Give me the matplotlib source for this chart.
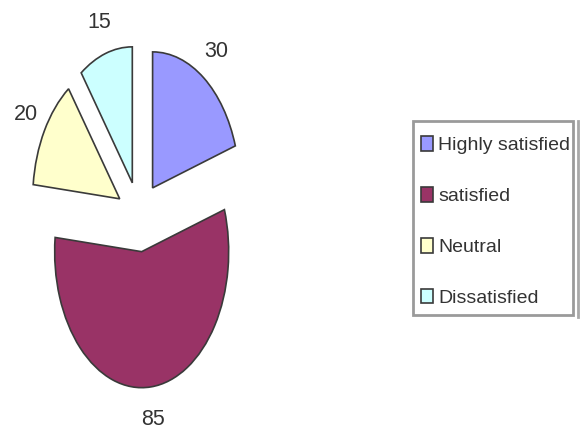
import matplotlib
matplotlib.use("Agg")
import matplotlib.pyplot as plt
from matplotlib.lines import Line2D
from matplotlib.patches import Rectangle

categories = ["Highly satisfied", "satisfied", "Neutral", "Dissatisfied"]
values = [30, 85, 20, 15]
colors = ["#9999FF", "#993366", "#FFFFCC", "#CCFFFF"]
explode = [0.26, 0.26, 0.26, 0.26]

plt.rcParams['font.family'] = ['Liberation Sans', 'DejaVu Sans']

W, H = 588, 433
fig = plt.figure(figsize=(W / 100, H / 100), dpi=100)
fig.patch.set_facecolor("white")

# pie axes (left part), stretched vertically like the reference
ax = fig.add_axes([0, 0, 300 / W, 1])
wedges, texts = ax.pie(values, labels=[str(v) for v in values], colors=colors,
                       explode=explode, startangle=90, counterclock=False,
                       labeldistance=1.24,
                       wedgeprops=dict(edgecolor="#3a3a3a", linewidth=1.2),
                       textprops=dict(fontsize=15.5, color="#333333"))
for t in texts:
    t.set_ha("center")
    t.set_va("center")
ax.set_aspect("auto")
rx, ry = 87.0, 136.0
cx, cy = 139.3, 216.5
ax.set_xlim(-cx / rx, (300 - cx) / rx)
ax.set_ylim(-(H - cy) / ry, cy / ry)
ax.axis("off")

# legend frame drawn separately
fig.add_artist(Rectangle((413 / W, 1 - 315 / H), 160 / W, 194 / H,
                         transform=fig.transFigure, facecolor="white",
                         edgecolor="#9a9a9a", linewidth=2, zorder=1))
# partial neighbouring frame line at the right edge
fig.add_artist(Line2D([578 / W, 578 / W], [1 - 121 / H, 1 - 317 / H],
                      transform=fig.transFigure, color="#a8a8a8", linewidth=2))

fs = 14
leg = fig.legend(wedges, categories, loc="upper left",
                 bbox_to_anchor=(421 / W, 1 - 136 / H), bbox_transform=fig.transFigure,
                 borderaxespad=0, borderpad=0, fontsize=fs, frameon=False,
                 handlelength=0.62, handleheight=0.8,
                 handletextpad=0.26, labelspacing=1.68)
leg.set_zorder(2)
for t in leg.get_texts():
    t.set_color("#333333")

fig.savefig("out.png", dpi=100)
